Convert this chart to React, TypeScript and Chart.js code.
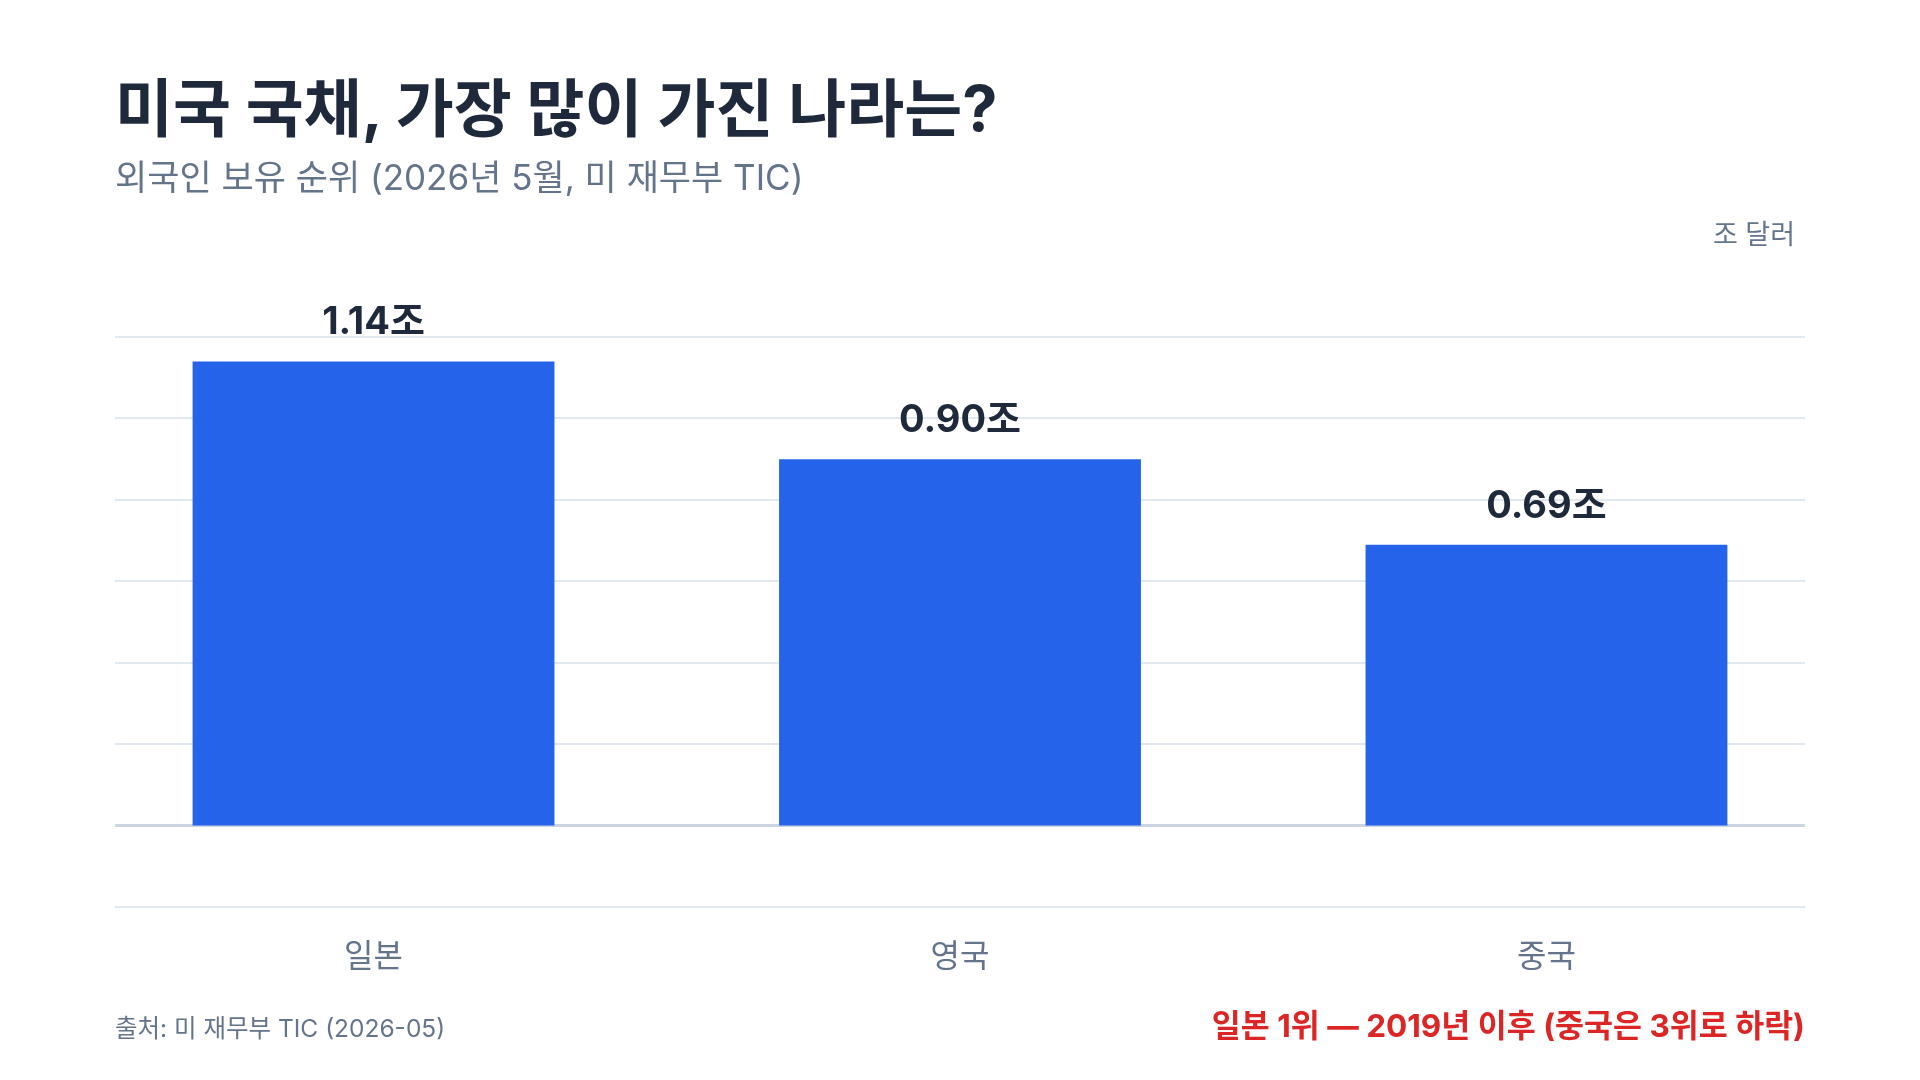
import React, { useEffect, useRef } from "react";
import { Chart, registerables } from "chart.js";

Chart.register(...registerables);

const countries = ["일본", "영국", "중국"];
const holdings = [1.14, 0.9, 0.69];
const valueLabels = holdings.map((v) => v.toFixed(2) + "조");

const FONT = 'Inter, "Noto Sans CJK KR", sans-serif';

const barValueLabels = {
  id: "barValueLabels",
  afterDatasetsDraw(chart: any) {
    const { ctx } = chart;
    const meta = chart.getDatasetMeta(0);
    ctx.save();
    ctx.font = `bold 38px ${FONT}`;
    ctx.fillStyle = "#1e293b";
    ctx.textAlign = "center";
    ctx.textBaseline = "alphabetic";
    meta.data.forEach((bar: any, i: number) => {
      ctx.fillText(valueLabels[i], bar.x, bar.y - 27);
    });
    ctx.restore();
  },
};

const renderChart = (canvas: HTMLCanvasElement) => {
  return new Chart(canvas, {
    type: "bar",
    data: {
      datasets: [
        {
          label: "보유액",
          data: holdings.map((v, i) => ({ x: i, y: v })),
          backgroundColor: "#2563eb",
          borderWidth: 0,
          categoryPercentage: 1,
          barPercentage: 0.617,
        },
      ],
    },
    options: {
      responsive: false,
      animation: false,
      devicePixelRatio: 1,
      layout: { padding: { left: 115, right: 115, top: 337, bottom: 93 } },
      plugins: {
        legend: { display: false },
        tooltip: { enabled: false },
      },
      scales: {
        x: {
          type: "linear",
          offset: false,
          min: -0.4408,
          max: 2.4408,
          grid: { display: false, drawTicks: false },
          border: { display: false },
          afterBuildTicks: (scale: any) => {
            scale.ticks = countries.map((_, i) => ({ value: i }));
          },
          afterFit: (scale: any) => {
            scale.height = 80;
          },
          ticks: {
            padding: 31,
            color: "#64748b",
            font: { family: FONT, size: 32 },
            callback: (value: any) => countries[value] ?? "",
          },
        },
        y: {
          min: -0.2,
          max: 1.2,
          afterFit: (scale: any) => {
            scale.width = 0;
          },
          border: { display: false },
          grid: {
            drawTicks: false,
            color: (c: any) =>
              Math.abs(c.tick?.value ?? 1) < 1e-9 ? "#cbd5e1" : "#e2e8f0",
            lineWidth: (c: any) =>
              Math.abs(c.tick?.value ?? 1) < 1e-9 ? 3 : 2,
          },
          ticks: { display: false, stepSize: 0.2 },
        },
      },
    },
    plugins: [barValueLabels],
  });
};

export default function App() {
  const chartRef = useRef<HTMLCanvasElement>(null);

  useEffect(() => {
    const chart = renderChart(chartRef.current!);
    return () => {
      chart.destroy();
    };
  }, []);

  const text = (extra: React.CSSProperties): React.CSSProperties => ({
    position: "absolute",
    margin: 0,
    lineHeight: 1,
    whiteSpace: "nowrap",
    fontFamily: FONT,
    ...extra,
  });

  return (
    <div
      style={{
        position: "fixed",
        left: 0,
        top: 0,
        width: 1920,
        height: 1080,
        background: "#ffffff",
        overflow: "hidden",
      }}
    >
      <canvas
        ref={chartRef}
        width={1920}
        height={1080}
        style={{ position: "absolute", left: 0, top: 0 }}
      />
      <div
        style={text({
          left: 115,
          top: 77,
          fontSize: 63,
          fontWeight: 700,
          color: "#1e293b",
        })}
      >
        미국 국채, 가장 많이 가진 나라는?
      </div>
      <div style={text({ left: 115, top: 160, fontSize: 35, color: "#64748b" })}>
        외국인 보유 순위 (2026년 5월, 미 재무부 TIC)
      </div>
      <div style={text({ right: 125, top: 221, fontSize: 27, color: "#64748b" })}>
        조 달러
      </div>
      <div style={text({ left: 115, top: 1016, fontSize: 24.5, color: "#64748b" })}>
        출처: 미 재무부 TIC (2026-05)
      </div>
      <div
        style={text({
          right: 115,
          top: 1010,
          fontSize: 31.5,
          fontWeight: 700,
          color: "#dc2626",
        })}
      >
        일본 1위 — 2019년 이후 (중국은 3위로 하락)
      </div>
    </div>
  );
}
